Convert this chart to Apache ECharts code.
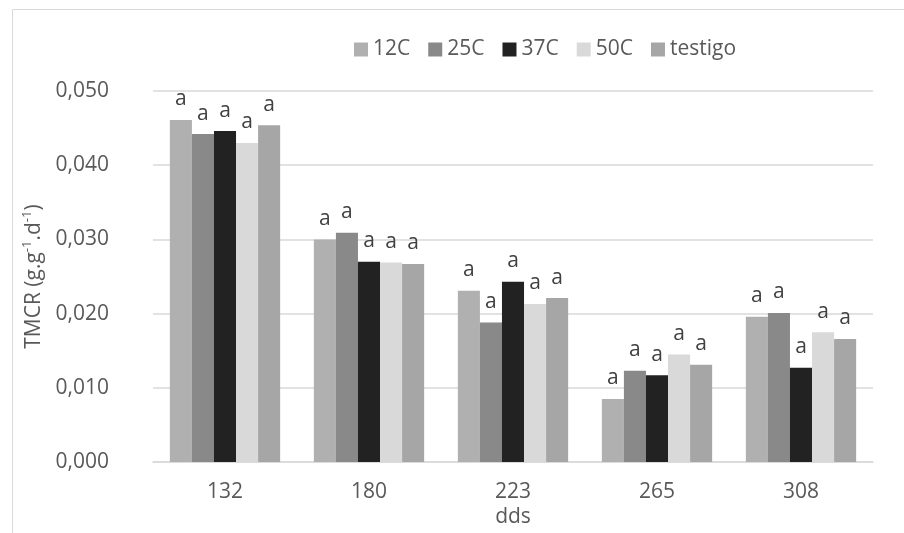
<!DOCTYPE html>
<html>
<head>
<meta charset="utf-8">
<script src="https://cdn.jsdelivr.net/npm/echarts@6/dist/echarts.min.js"></script>
<style>html,body{margin:0;padding:0;background:#fff;}#c{width:904px;height:533px;}</style>
</head>
<body>
<div id="c"></div>
<script>
const categories = ['132', '180', '223', '265', '308'];
const seriesNames = ['12C', '25C', '37C', '50C', 'testigo'];
const s12C = [0.0461, 0.0300, 0.0231, 0.0085, 0.0196];
const s25C = [0.0442, 0.0309, 0.0188, 0.0123, 0.0201];
const s37C = [0.0446, 0.0270, 0.0243, 0.0117, 0.0127];
const s50C = [0.0430, 0.0269, 0.0213, 0.0145, 0.0175];
const sTestigo = [0.0454, 0.0267, 0.0221, 0.0131, 0.0166];
const letters12C = ['a', 'a', 'a', 'a', 'a'];
const letters25C = ['a', 'a', 'a', 'a', 'a'];
const letters37C = ['a', 'a', 'a', 'a', 'a'];
const letters50C = ['a', 'a', 'a', 'a', 'a'];
const lettersTestigo = ['a', 'a', 'a', 'a', 'a'];
const yTicks = [0, 0.01, 0.02, 0.03, 0.04, 0.05];

const values = [s12C, s25C, s37C, s50C, sTestigo];
const letters = [letters12C, letters25C, letters37C, letters50C, lettersTestigo];
const colors = ['#b0b0b0', '#898989', '#222222', '#d9d9d9', '#a6a6a6'];
const FONT = '"Open Sans", "Noto Sans", sans-serif';
const FS = 21;

const chart = echarts.init(document.getElementById('c'), null, {renderer: 'canvas'});
chart.setOption({
  animation: false,
  backgroundColor: '#ffffff',
  textStyle: {fontFamily: FONT},
  graphic: [{
    type: 'rect', left: 10, top: 7, silent: true,
    shape: {width: 1000, height: 700},
    style: {fill: 'none', stroke: '#d9d9d9', lineWidth: 1}
  }],
  legend: {
    top: 34, left: 349,
    itemWidth: 14, itemHeight: 14, itemGap: 18,
    icon: 'rect',
    textStyle: {fontSize: FS, color: '#595959', fontFamily: FONT},
    data: seriesNames
  },
  grid: {left: 153, right: 31, top: 91, bottom: 68, containLabel: false},
  xAxis: {
    type: 'category', data: categories,
    name: 'dds', nameLocation: 'middle', nameGap: 40,
    nameTextStyle: {fontSize: FS, color: '#595959'},
    axisLine: {lineStyle: {color: '#d9d9d9', width: 1.5}},
    axisTick: {show: false},
    axisLabel: {fontSize: FS, color: '#595959', margin: 19}
  },
  yAxis: {
    type: 'value', min: 0, max: 0.05, interval: 0.01,
    name: '{n|TMCR (g.g}{s|-1}{n|.d}{s|-1}{n|)}',
    nameLocation: 'middle', nameGap: 100, nameRotate: 90,
    nameTextStyle: {
      color: '#595959',
      rich: {
        n: {fontSize: FS, color: '#595959', lineHeight: 26, fontFamily: FONT},
        s: {fontSize: 13, color: '#595959', verticalAlign: 'top', lineHeight: 26, padding: [0, 0, 10, 0], fontFamily: FONT}
      }
    },
    axisLine: {show: false},
    axisTick: {show: false},
    splitLine: {lineStyle: {color: '#d9d9d9', width: 1.5}},
    axisLabel: {
      fontSize: FS, color: '#595959', margin: 44,
      formatter: v => yTicks.some(t => Math.abs(t - v) < 1e-9) ? v.toFixed(3).replace('.', ',') : ''
    }
  },
  series: seriesNames.map((name, i) => ({
    name: name, type: 'bar',
    data: values[i],
    barGap: '0%', barCategoryGap: '23.4%',
    itemStyle: {color: colors[i]},
    label: {
      show: true, position: 'top', distance: 10,
      fontSize: FS, color: '#404040', fontFamily: FONT,
      formatter: p => letters[i][p.dataIndex]
    }
  }))
});
</script>
</body>
</html>
